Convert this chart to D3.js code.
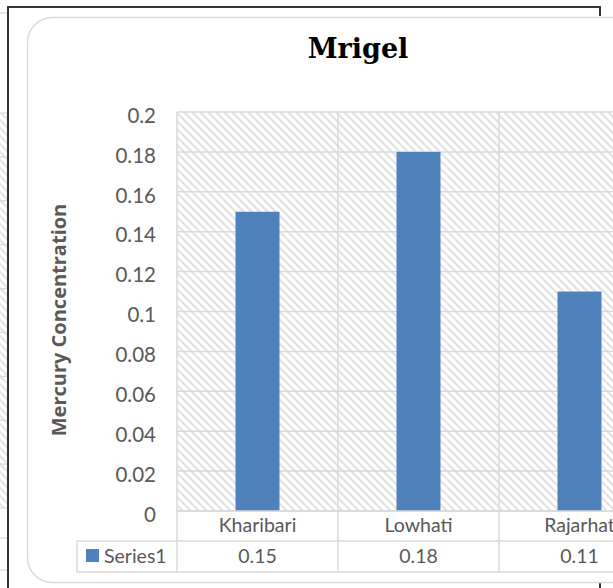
<!DOCTYPE html>
<html><head><meta charset="utf-8">
<script src="https://cdn.jsdelivr.net/npm/d3@7"></script>
<style>html,body{margin:0;padding:0;background:#fff;overflow:hidden}</style>
</head><body>
<script>
const categories = ["Kharibari", "Lowhati", "Rajarhat"];
const values = [0.15, 0.18, 0.11];
const seriesName = "Series1";
const yTicks = [0, 0.02, 0.04, 0.06, 0.08, 0.1, 0.12, 0.14, 0.16, 0.18, 0.2];
const title = "Mrigel";
const yLabel = "Mercury Concentration";

const W = 613, H = 588;
const svg = d3.select("body").append("svg").attr("width", W).attr("height", H);
const defs = svg.append("defs");
const pat = defs.append("pattern").attr("id", "hatch").attr("patternUnits", "userSpaceOnUse")
  .attr("width", 8).attr("height", 8);
pat.append("rect").attr("width", 8).attr("height", 8).attr("fill", "#fff");
pat.append("path").attr("d", "M-2,-2L10,10M-2,6L2,10M6,-2L10,2")
  .attr("stroke", "#e2e2e2").attr("stroke-width", 2);

const grey = "#d9d9d9", textC = "#595959", font = "Lato, 'Open Sans', sans-serif";

// background chart strip on the left
const bgY = d3.scaleLinear().domain([0, 9]).range([113, 508]);
svg.append("rect").attr("x", 0).attr("y", 113).attr("width", 8).attr("height", 395).attr("fill", "url(#hatch)");
svg.append("g").selectAll("line").data(d3.range(10).map(i => bgY(i)).concat([538, 570, 13]))
  .join("line").attr("x1", 0).attr("x2", 8).attr("y1", d => d).attr("y2", d => d)
  .attr("stroke", grey).attr("stroke-width", 1.3);

// dark frame
svg.append("rect").attr("x", 8).attr("y", 7).attr("width", 592).attr("height", 600)
  .attr("fill", "none").attr("stroke", "#333").attr("stroke-width", 2);
// white chart box
svg.append("rect").attr("x", 9).attr("y", 16).attr("width", 620).attr("height", 567).attr("fill", "#fff");
svg.append("rect").attr("x", 27.5).attr("y", 17.5).attr("width", 650).attr("height", 565)
  .attr("rx", 25).attr("fill", "#fff").attr("stroke", grey).attr("stroke-width", 1.5);

// scales
const x = d3.scaleBand().domain(categories).range([177, 177 + 161 * 3]).padding(0);
const y = d3.scaleLinear().domain([0, 0.2]).range([511, 112]);

// plot area
svg.append("rect").attr("x", 177).attr("y", y(0.2)).attr("width", 161 * 3).attr("height", y(0) - y(0.2))
  .attr("fill", "url(#hatch)");
svg.append("g").selectAll("line").data(yTicks).join("line")
  .attr("x1", 177).attr("x2", 177 + 161 * 3).attr("y1", d => y(d)).attr("y2", d => y(d))
  .attr("stroke", grey).attr("stroke-width", 1.5);

// bars
const bw = 44;
svg.append("g").selectAll("rect").data(values).join("rect")
  .attr("x", (d, i) => x(categories[i]) + x.bandwidth() / 2 - bw / 2)
  .attr("y", d => y(d)).attr("width", bw).attr("height", d => y(0) - y(d))
  .attr("fill", "#4f81bd");

// y axis tick labels
const yAxis = d3.axisLeft(y).tickValues(yTicks).tickSize(0).tickPadding(21).tickFormat(d => String(+d.toFixed(2)));
const ga = svg.append("g").attr("transform", "translate(177,0)").call(yAxis);
ga.select(".domain").remove();
ga.selectAll("text").attr("font-family", font).attr("font-size", 20.5).attr("fill", textC).attr("dy", "0.5em");

// table
const r0 = 511, r1 = 541, r2 = 572;
const tl = svg.append("g").attr("stroke", grey).attr("stroke-width", 1.5);
tl.append("line").attr("x1", 177).attr("x2", 700).attr("y1", r0).attr("y2", r0);
tl.append("line").attr("x1", 77).attr("x2", 700).attr("y1", r1).attr("y2", r1);
tl.append("line").attr("x1", 77).attr("x2", 700).attr("y1", r2).attr("y2", r2);
tl.append("line").attr("x1", 77).attr("x2", 77).attr("y1", r1).attr("y2", r2);
tl.selectAll(".v").data(categories.map(c => x(c)).concat([x.range()[1]])).join("line")
  .attr("x1", d => d).attr("x2", d => d).attr("y1", y(0.2)).attr("y2", r2);

svg.append("g").selectAll("text").data(categories).join("text")
  .attr("x", d => x(d) + x.bandwidth() / 2).attr("y", 532).attr("text-anchor", "middle")
  .attr("font-family", font).attr("font-size", 19.5).attr("fill", textC).text(d => d);
svg.append("g").selectAll("text").data(values).join("text")
  .attr("x", (d, i) => x(categories[i]) + x.bandwidth() / 2).attr("y", 563).attr("text-anchor", "middle")
  .attr("font-family", font).attr("font-size", 19.5).attr("fill", textC).text(d => d);

svg.append("rect").attr("x", 86).attr("y", 549).attr("width", 13).attr("height", 13).attr("fill", "#4f81bd");
svg.append("text").attr("x", 104).attr("y", 563).attr("font-family", font).attr("font-size", 19.5)
  .attr("fill", textC).text(seriesName);

// title
svg.append("text").attr("x", 358).attr("y", 58).attr("text-anchor", "middle")
  .attr("font-family", "'DejaVu Serif', serif").attr("font-weight", "bold").attr("font-size", 27)
  .attr("fill", "#000").text(title);

// y label
svg.append("text").attr("transform", "translate(66,320) rotate(-90)").attr("text-anchor", "middle")
  .attr("font-family", "'Open Sans', sans-serif").attr("font-weight", "bold").attr("font-size", 20)
  .attr("fill", textC).text(yLabel);
</script>
</body></html>
